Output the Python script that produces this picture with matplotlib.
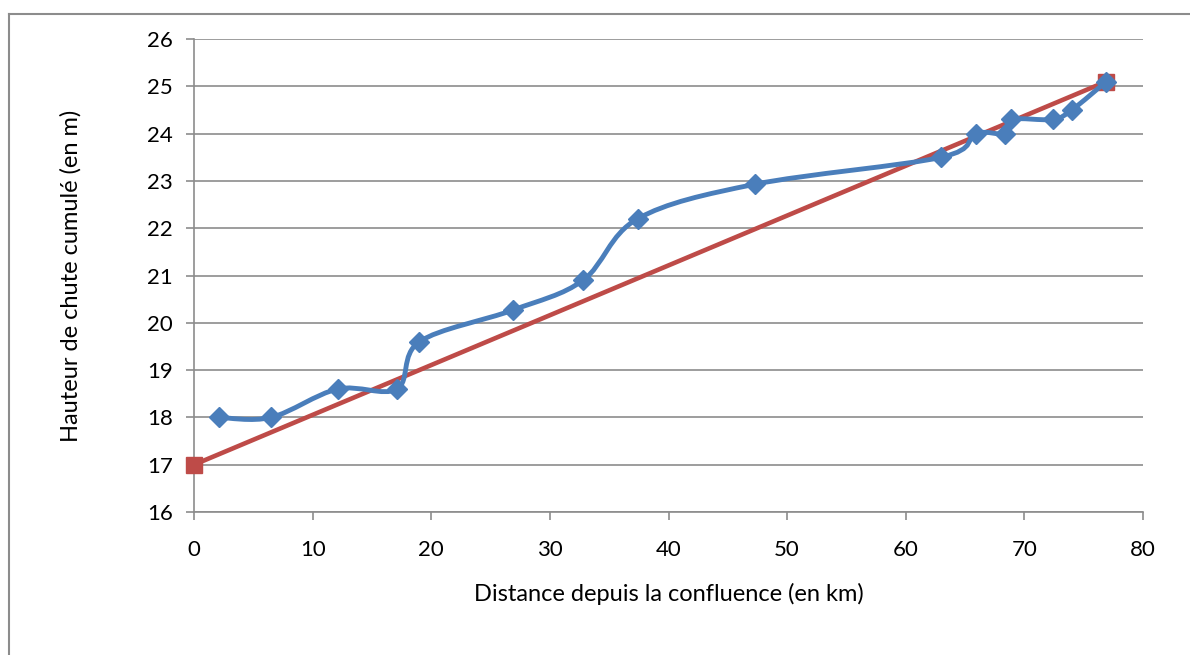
import matplotlib
matplotlib.use('Agg')
import matplotlib.pyplot as plt
from matplotlib.path import Path
from matplotlib.patches import PathPatch
from matplotlib.lines import Line2D

# distance (km) / cumulative drop height (m)
distance = [2.1, 6.5, 12.1, 17.1, 19.0, 26.9, 32.8, 37.4, 47.3,
            63.0, 65.9, 68.4, 68.9, 72.4, 74.0, 76.9]
height = [18.0, 18.0, 18.6, 18.6, 19.6, 20.27, 20.9, 22.2, 22.93,
          23.5, 24.0, 24.0, 24.3, 24.3, 24.5, 25.1]

trend_x = [0, 76.9]
trend_y = [17.0, 25.1]

xticks = list(range(0, 81, 10))
yticks = list(range(16, 27))

BLUE = '#4a7ebb'
RED = '#be4b48'
GRID = '#8c8c8c'


def smooth_path(xs, ys):
    # Excel-like smoothed line: cubic bezier through every point
    pts = list(zip(xs, ys))
    verts = [pts[0]]
    codes = [Path.MOVETO]
    n = len(pts)
    for i in range(n - 1):
        p0 = pts[i - 1] if i > 0 else pts[i]
        p1 = pts[i]
        p2 = pts[i + 1]
        p3 = pts[i + 2] if i + 2 < n else pts[i + 1]
        c1 = (p1[0] + (p2[0] - p0[0]) / 6, p1[1] + (p2[1] - p0[1]) / 6)
        c2 = (p2[0] - (p3[0] - p1[0]) / 6, p2[1] - (p3[1] - p1[1]) / 6)
        verts += [c1, c2, p2]
        codes += [Path.CURVE4] * 3
    return Path(verts, codes)


plt.rcParams['font.family'] = ['Lato', 'DejaVu Sans']

fig = plt.figure(figsize=(11.9, 6.55), dpi=100)
ax = fig.add_axes([194 / 1190, 1 - 512 / 655, (1143 - 194) / 1190, (512 - 39) / 655])

# outer chart frame (left and top edges visible)
fig.add_artist(Line2D([9 / 1190, 9 / 1190], [0, 1 - 14 / 655], color='#8c8c8c', lw=1.5))
fig.add_artist(Line2D([9 / 1190, 1], [1 - 14 / 655, 1 - 14 / 655], color='#8c8c8c', lw=1.5))

ax.plot(trend_x, trend_y, color=RED, lw=3.3, marker='s', ms=12, zorder=3, clip_on=False)

ax.add_patch(PathPatch(smooth_path(distance, height), facecolor='none',
                       edgecolor=BLUE, lw=3.5, zorder=4))
ax.plot(distance, height, ls='none', marker='D', ms=10, color=BLUE, zorder=5, clip_on=False)

ax.set_xlim(0, 80)
ax.set_ylim(16, 26)
ax.set_xticks(xticks)
ax.set_yticks(yticks)
ax.yaxis.grid(True, color=GRID, lw=1.2)
ax.set_axisbelow(True)

for s in ['top', 'right']:
    ax.spines[s].set_visible(False)
for s in ['left', 'bottom']:
    ax.spines[s].set_color(GRID)
    ax.spines[s].set_linewidth(1.2)

ax.tick_params(axis='both', direction='out', length=6, width=1.2, color=GRID,
               labelsize=16)
ax.tick_params(axis='x', pad=14)
ax.tick_params(axis='y', pad=9)

ax.set_xlabel('Distance depuis la confluence (en km)', fontsize=17, labelpad=17)
ax.set_ylabel('Hauteur de chute cumulé (en m)', fontsize=17, labelpad=47)

fig.savefig('out.png', dpi=100)
